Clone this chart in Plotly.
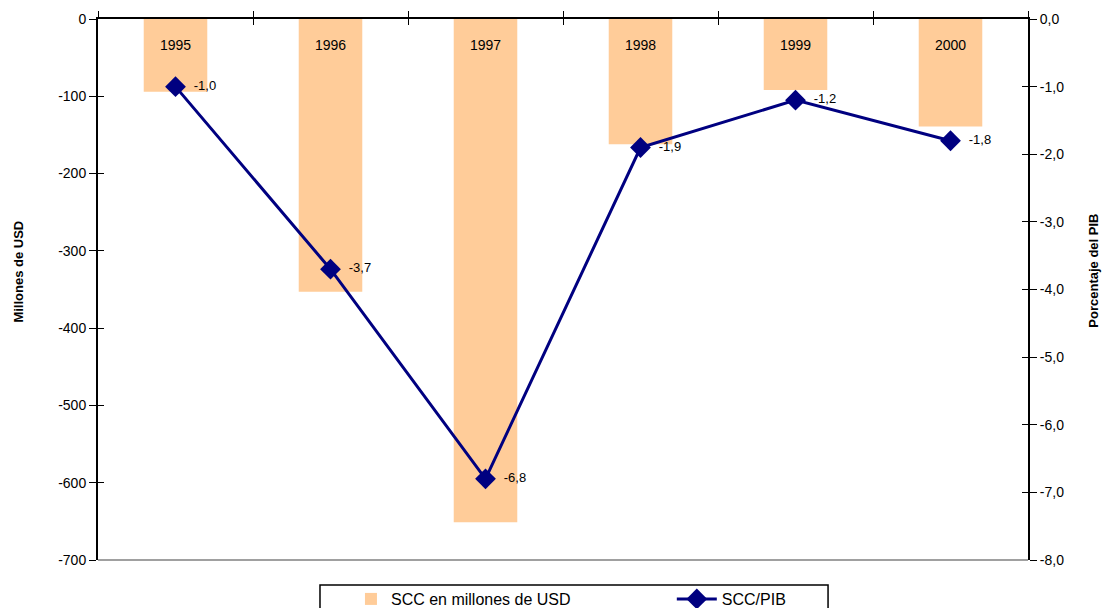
import plotly.graph_objects as go

years = ["1995", "1996", "1997", "1998", "1999", "2000"]
scc_musd = [-94, -353, -651, -162, -92, -139]
scc_pib = [-1.0, -3.7, -6.8, -1.9, -1.2, -1.8]
pib_labels = ["-1,0", "-3,7", "-6,8", "-1,9", "-1,2", "-1,8"]

left_ticks = [0, -100, -200, -300, -400, -500, -600, -700]
left_ticktext = ["0", "-100", "-200", "-300", "-400", "-500", "-600", "-700"]
right_ticks = [0, -1, -2, -3, -4, -5, -6, -7, -8]
right_ticktext = ["0,0", "-1,0", "-2,0", "-3,0", "-4,0", "-5,0", "-6,0", "-7,0", "-8,0"]

FONT = "Liberation Sans, Arial, sans-serif"

fig = go.Figure()
fig.add_trace(go.Bar(
    x=years, y=scc_musd, name="SCC en millones de USD",
    marker=dict(color="#FFCC99", line=dict(width=0)),
    width=0.41, yaxis="y", hoverinfo="skip", legend="legend",
))
fig.add_trace(go.Scatter(
    x=years, y=scc_pib, name="SCC/PIB", yaxis="y2", legend="legend2",
    mode="lines+markers+text",
    line=dict(color="#000080", width=3),
    marker=dict(symbol="diamond", size=16, color="#000080"),
    text=["  " + t for t in pib_labels], textposition="middle right",
    textfont=dict(family=FONT, size=13, color="black"),
    hoverinfo="skip",
))
# invisible helper traces to activate the inside-tick axes (cross ticks)
fig.add_trace(go.Scatter(x=years, y=scc_musd, xaxis="x2", yaxis="y3", mode="markers",
                         marker=dict(opacity=0), showlegend=False, hoverinfo="skip"))
fig.add_trace(go.Scatter(x=years, y=scc_pib, xaxis="x", yaxis="y4", mode="markers",
                         marker=dict(opacity=0), showlegend=False, hoverinfo="skip"))

annotations = []
for i, yr in enumerate(years):
    annotations.append(dict(x=i, y=0, xref="x", yref="y", yshift=-26, text=yr,
                            showarrow=False, yanchor="middle", xanchor="center",
                            font=dict(family=FONT, size=14, color="black")))
annotations.append(dict(x=-0.0855, y=0.534, xref="paper", yref="paper",
                        text="<b>Millones de USD</b>", textangle=-90, showarrow=False,
                        xanchor="center", yanchor="middle",
                        font=dict(family=FONT, size=13, color="black")))
annotations.append(dict(x=1.0705, y=0.534, xref="paper", yref="paper",
                        text="<b>Porcentaje del PIB</b>", textangle=-90, showarrow=False,
                        xanchor="center", yanchor="middle",
                        font=dict(family=FONT, size=13, color="black")))

xrange = [-0.5, len(years) - 0.5]
legend_font = dict(family=FONT, size=16, color="black")

fig.update_layout(
    width=1103, height=608,
    margin=dict(l=98, r=75, t=19, b=48, autoexpand=False),
    paper_bgcolor="white", plot_bgcolor="white",
    font=dict(family=FONT, size=13, color="black"),
    showlegend=True,
    legend=dict(
        orientation="h", x=0.272, xanchor="left", y=-0.0407, yanchor="top",
        borderwidth=0, bgcolor="rgba(0,0,0,0)", font=legend_font, itemwidth=30,
    ),
    legend2=dict(
        orientation="h", x=0.617, xanchor="left", y=-0.0407, yanchor="top",
        borderwidth=0, bgcolor="rgba(0,0,0,0)", font=legend_font, itemwidth=40,
    ),
    xaxis=dict(
        type="category", side="top", anchor="y", automargin=False,
        range=xrange, autorange=False,
        showline=True, linecolor="black", linewidth=2,
        ticks="outside", tickson="boundaries", ticklen=6, tickcolor="black",
        showticklabels=False,
        showgrid=False, zeroline=False,
    ),
    xaxis2=dict(
        type="category", side="top", overlaying="x", anchor="y", automargin=False,
        range=xrange, autorange=False, showticklabels=False,
        ticks="inside", tickson="boundaries", ticklen=6, tickcolor="black",
        showline=False, showgrid=False, zeroline=False,
    ),
    yaxis=dict(
        range=[-700, 0], tickvals=left_ticks, ticktext=left_ticktext, side="left",
        automargin=False,
        showline=True, linecolor="black", linewidth=2,
        ticks="outside", ticklen=7, tickcolor="black", tickwidth=1,
        tickfont=dict(family=FONT, size=14, color="black"),
        showgrid=False, zeroline=False,
    ),
    yaxis3=dict(
        range=[-700, 0], tickvals=left_ticks, overlaying="y", side="left", anchor="x",
        automargin=False,
        showticklabels=False, ticks="inside", ticklen=6, tickcolor="black",
        showline=False, showgrid=False, zeroline=False,
    ),
    yaxis2=dict(
        range=[-8, 0], tickvals=right_ticks, ticktext=right_ticktext,
        overlaying="y", side="right", anchor="x", automargin=False,
        showline=True, linecolor="black", linewidth=2,
        ticks="outside", ticklen=7, tickcolor="black",
        tickfont=dict(family=FONT, size=14, color="black"),
        showgrid=False, zeroline=False,
    ),
    yaxis4=dict(
        range=[-8, 0], tickvals=right_ticks, overlaying="y", side="right", anchor="x",
        automargin=False,
        showticklabels=False, ticks="inside", ticklen=6, tickcolor="black",
        showline=False, showgrid=False, zeroline=False,
    ),
    annotations=annotations,
    shapes=[
        dict(type="line", xref="paper", yref="paper", x0=0, x1=1, y0=0, y1=0,
             line=dict(color="#808080", width=1.5), layer="above"),
        dict(type="rect", xref="paper", yref="paper", x0=0.2387, x1=0.785,
             y0=-0.0462, y1=-0.2, line=dict(color="black", width=1.5),
             fillcolor="rgba(0,0,0,0)", layer="above"),
    ],
)

fig.write_html(
    "out.html",
    config={"displayModeBar": False},
    post_script="document.body.style.margin='0';document.body.style.overflow='hidden';",
)
